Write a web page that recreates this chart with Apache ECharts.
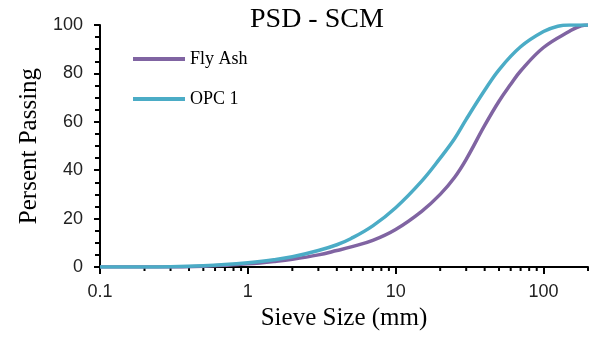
<!DOCTYPE html>
<html>
<head>
<meta charset="utf-8">
<script src="https://cdn.jsdelivr.net/npm/echarts@6/dist/echarts.min.js"></script>
<style>
  html, body { margin: 0; padding: 0; background: #fff; }
  #chart { width: 597px; height: 340px; }
</style>
</head>
<body>
<div id="chart"></div>
<script>
// sieve sizes (mm) and percent passing
const flyAshSize = [0.1, 0.3, 0.5, 0.7, 1, 1.5, 2, 3, 4, 5, 7, 10, 15, 20, 25, 30, 40, 50, 60, 70, 100, 150, 180, 200];
const flyAshPass = [0, 0, 0.3, 0.7, 1.3, 2.3, 3.2, 5, 6.8, 8.3, 11, 15.5, 23, 30, 37, 44.5, 58.5, 68.5, 75.5, 81, 90.7, 97.4, 99.7, 100];

const opcSize = [0.1, 0.2, 0.3, 0.5, 0.7, 1, 1.5, 2, 3, 4, 5, 7, 10, 15, 20, 25, 30, 40, 50, 70, 100, 125, 150, 200];
const opcPass = [0, 0, 0.1, 0.5, 1.0, 1.8, 3.0, 4.2, 6.8, 9.2, 11.8, 17, 24.5, 35.5, 45, 53, 61, 73, 81.5, 91, 97.3, 99.5, 100, 100];

// minor ticks of the log axis
const minorTicks = [0.2, 0.3, 0.4, 0.5, 0.6, 0.7, 0.8, 0.9,
  2, 3, 4, 5, 6, 7, 8, 9,
  20, 30, 40, 50, 60, 70, 80, 90, 200];

const pairs = (xs, ys) => xs.map((x, i) => [x, ys[i]]);

let myChart = echarts.init(document.getElementById('chart'), null, { renderer: 'canvas' });

const option = {
    animation: false,
    title: {
        text: 'PSD - SCM',
        left: 245,
        top: 1,
        textStyle: {
            fontFamily: 'Liberation Serif',
            fontWeight: 'normal',
            fontSize: 28,
            color: '#000'
        }
    },
    legend: {
        orient: 'vertical',
        left: 133,
        top: 50,
        padding: 0,
        icon: 'rect',
        itemWidth: 52,
        itemHeight: 4,
        itemGap: 22,
        textStyle: {
            fontFamily: 'Liberation Serif',
            fontSize: 18,
            color: '#000'
        },
        data: ['Fly Ash', 'OPC 1']
    },
    grid: {
        left: 100,
        right: 9,
        top: 25,
        bottom: 73
    },
    xAxis: {
        type: 'log',
        logBase: 10,
        min: 0.1,
        max: 200,
        name: 'Sieve Size (mm)',
        nameLocation: 'middle',
        nameGap: 36,
        nameTextStyle: {
            fontFamily: 'Liberation Serif',
            fontSize: 25,
            color: '#000'
        },
        axisLine: {
            lineStyle: { color: '#000', width: 2 }
        },
        axisTick: {
            show: true,
            length: 7,
            lineStyle: { color: '#000', width: 2 }
        },
        axisLabel: {
            fontFamily: 'Liberation Sans',
            fontSize: 18,
            color: '#222',
            margin: 16,
            showMaxLabel: false,
            formatter: v => String(v)
        },
        splitLine: { show: false }
    },
    yAxis: {
        type: 'value',
        min: 0,
        max: 100,
        interval: 20,
        name: 'Persent Passing',
        nameLocation: 'middle',
        nameGap: 58,
        nameTextStyle: {
            fontFamily: 'Liberation Serif',
            fontSize: 25,
            color: '#000'
        },
        axisLine: {
            show: true,
            lineStyle: { color: '#000', width: 2 }
        },
        axisTick: {
            show: true,
            length: 6,
            lineStyle: { color: '#000', width: 2 }
        },
        minorTick: {
            show: true,
            splitNumber: 4,
            length: 5,
            lineStyle: { color: '#000', width: 2 }
        },
        axisLabel: {
            fontFamily: 'Liberation Sans',
            fontSize: 18,
            color: '#222',
            margin: 17
        },
        splitLine: { show: false }
    },
    series: [
        {
            name: 'Fly Ash',
            type: 'line',
            smooth: 0.4,
            symbol: 'none',
            data: pairs(flyAshSize, flyAshPass),
            lineStyle: { color: '#8064A2', width: 3.5 },
            itemStyle: { color: '#8064A2' },
            z: 3
        },
        {
            name: 'OPC 1',
            type: 'line',
            smooth: 0.4,
            symbol: 'none',
            data: pairs(opcSize, opcPass),
            lineStyle: { color: '#4BACC6', width: 3.5 },
            itemStyle: { color: '#4BACC6' },
            z: 4
        },
        {
            type: 'custom',
            silent: true,
            clip: false,
            data: minorTicks.map(v => [v, 0]),
            renderItem: function (params, api) {
                const p = api.coord([api.value(0), 0]);
                return {
                    type: 'line',
                    shape: { x1: p[0], y1: p[1], x2: p[0], y2: p[1] + 4 },
                    style: { stroke: '#000', lineWidth: 2 }
                };
            },
            z: 2
        }
    ]
};

myChart.setOption(option);
window.addEventListener('resize', () => {
    myChart.resize()
})
</script>
</body>
</html>
